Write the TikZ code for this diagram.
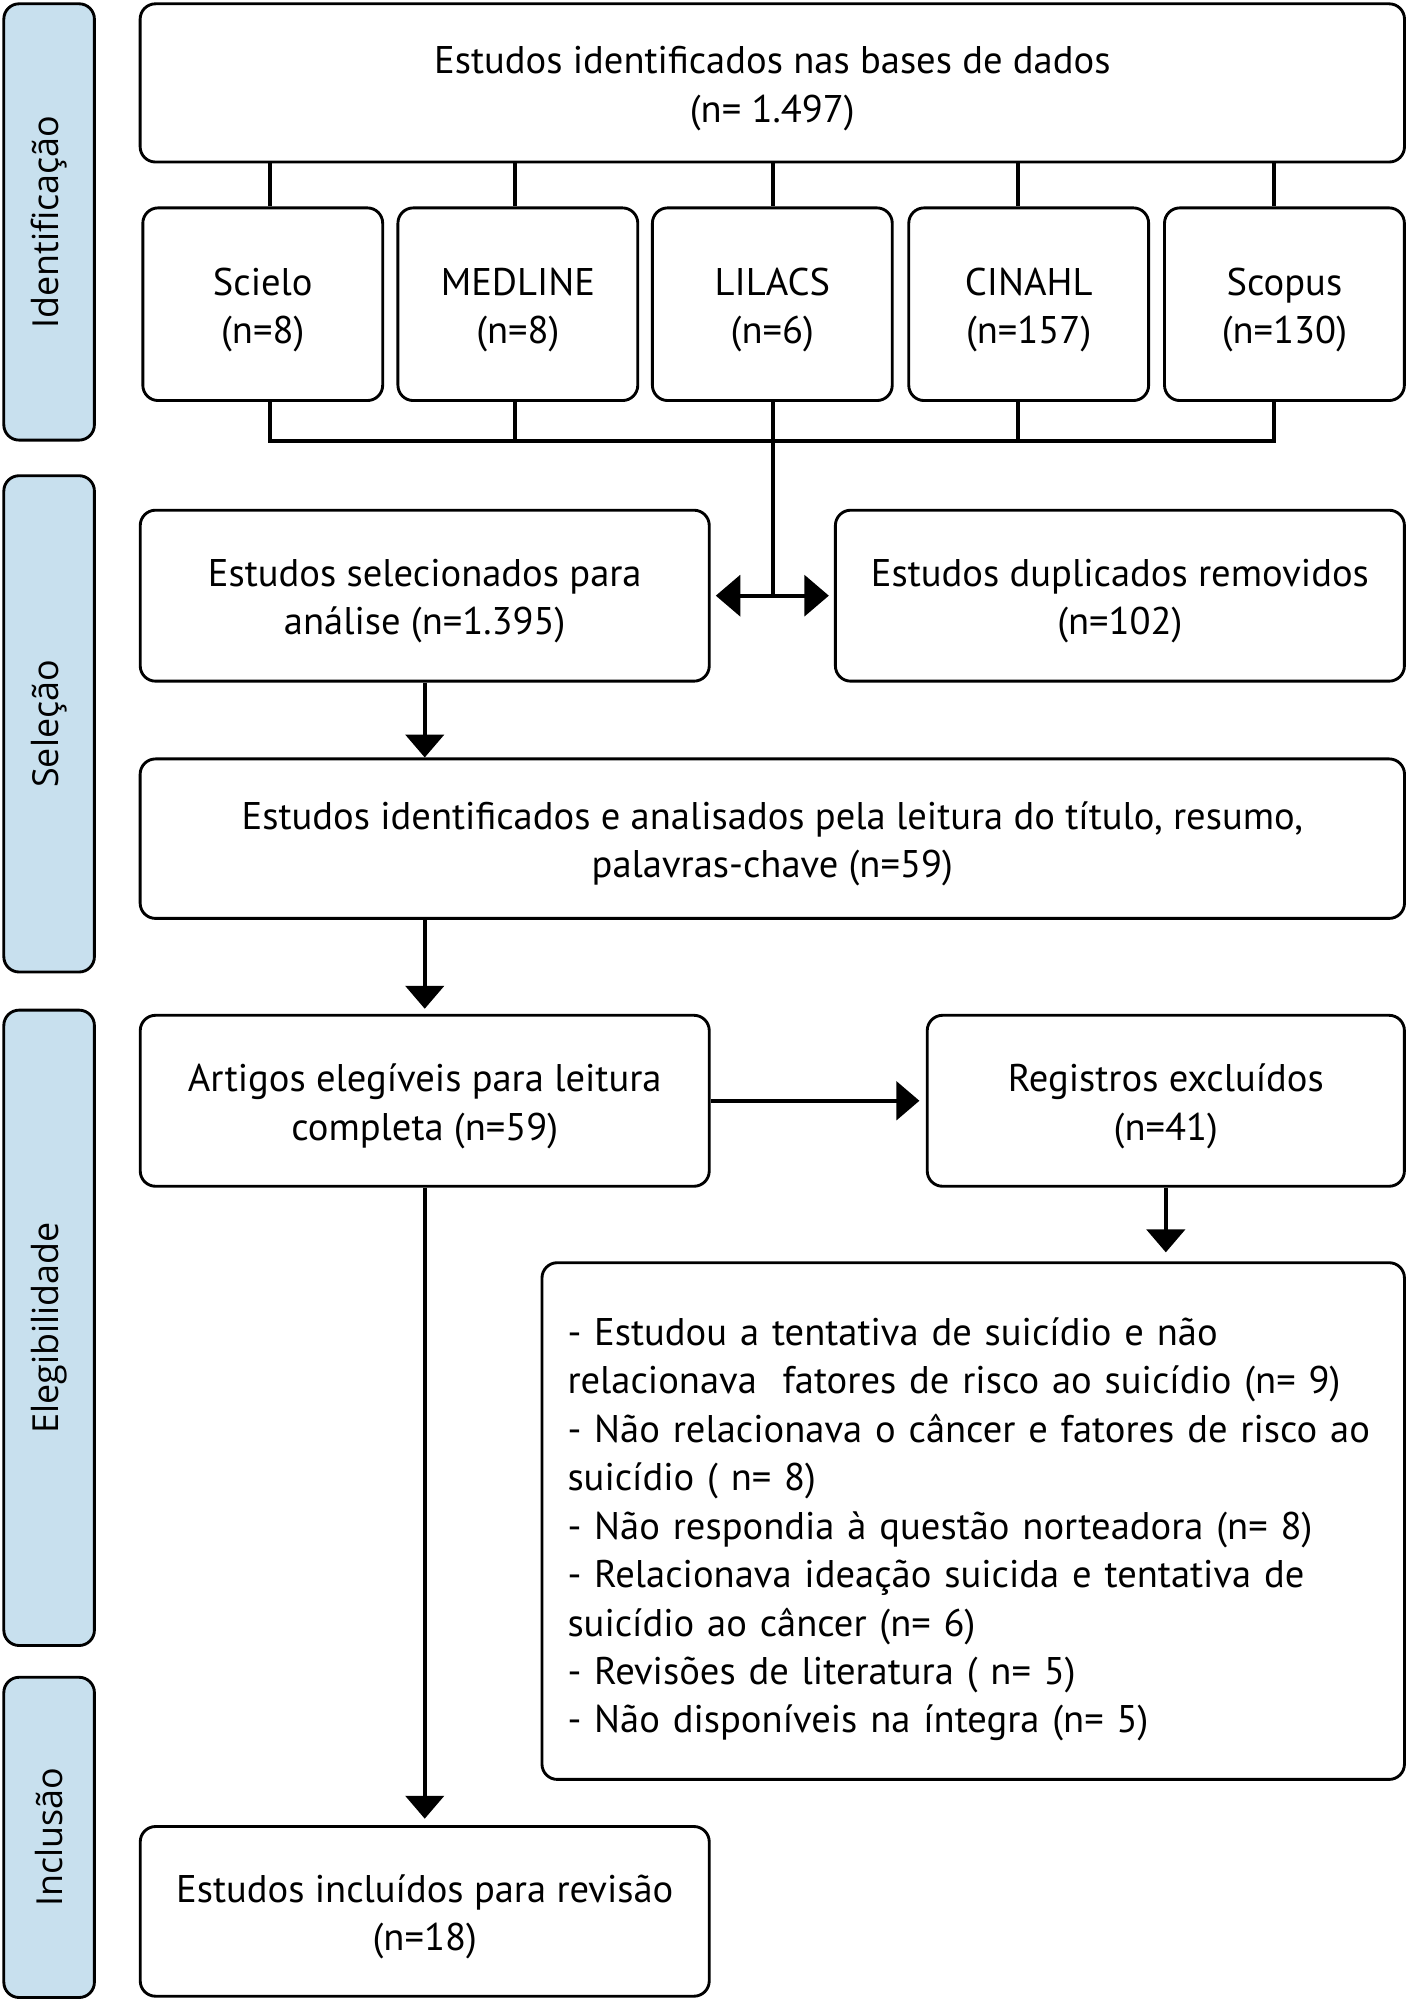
\documentclass[tikz,border=0pt]{standalone}
\usepackage{fontspec}
\setmainfont{PT Sans}
\newfontfamily\sidefont{Open Sans}
\usetikzlibrary{arrows.meta}
\definecolor{sideblue}{HTML}{C8E0EE}
\newcommand\tp{\rule{0pt}{21.5pt}}
\newcommand\tpl{\rule{0pt}{25pt}}
\begin{document}
\begin{tikzpicture}[x=0.025cm,y=-0.025cm,
  box/.style={draw=black, line width=1.6pt, rounded corners=0.3cm, fill=white, align=center,
    font=\fontsize{21.5}{27}\selectfont, inner sep=0pt},
  side/.style={draw=black, line width=1.6pt, rounded corners=0.3cm, fill=sideblue,
    minimum height=1.775cm, rotate=90, font=\sidefont\fontsize{20}{24}\selectfont, inner sep=0pt},
  conn/.style={line width=2.3pt},
  arr/.style={conn, -{Triangle[length=0.45cm,width=0.75cm]}},
  darr/.style={conn, {Triangle[length=0.48cm,width=0.8cm]}-{Triangle[length=0.48cm,width=0.8cm]}}
]
\useasboundingbox (0,0) rectangle (1103,1568);

% side bars
\node[side, minimum width=8.55cm]  (s1) at (38.5,174)    {Identificação};
\node[side, minimum width=9.725cm] (s2) at (38.5,567.5)  {Seleção};
\node[side, minimum width=12.45cm] (s3) at (38.5,1041)   {Elegibilidade};
\node[side, minimum width=6.275cm] (s4) at (38.5,1440.5) {Inclusão};

% boxes
\node[box, minimum width=24.775cm, minimum height=3.1cm] (top) at (605.5,65)
  {\tp Estudos identificados nas bases de dados\\(n= 1.497)};
\node[box, minimum width=4.7cm, minimum height=3.775cm] (db1) at (206,238.5)   {\tp Scielo\\(n=8)};
\node[box, minimum width=4.7cm, minimum height=3.775cm] (db2) at (406,238.5)   {\tp MEDLINE\\(n=8)};
\node[box, minimum width=4.7cm, minimum height=3.775cm] (db3) at (605.5,238.5) {\tp LILACS\\(n=6)};
\node[box, minimum width=4.7cm, minimum height=3.775cm] (db4) at (806.5,238.5) {\tp CINAHL\\(n=157)};
\node[box, minimum width=4.7cm, minimum height=3.775cm] (db5) at (1007,238.5)  {\tp Scopus\\(n=130)};

\node[box, minimum width=11.15cm, minimum height=3.35cm] (sel) at (333,467)
  {\tp Estudos selecionados para\\análise (n=1.395)};
\node[box, minimum width=11.15cm, minimum height=3.35cm] (dup) at (878,467)
  {\tp Estudos duplicados removidos\\(n=102)};
\node[box, minimum width=24.775cm, minimum height=3.125cm] (ana) at (605.5,657.5)
  {\tp Estudos identificados e analisados pela leitura do título, resumo,\\palavras-chave (n=59)};
\node[box, minimum width=11.15cm, minimum height=3.35cm] (eleg) at (333,863)
  {\tp Artigos elegíveis para leitura\\completa (n=59)};
\node[box, minimum width=9.35cm, minimum height=3.35cm] (reg) at (914,863)
  {\tp Registros excluídos\\(n=41)};
\node[box, minimum width=16.9cm, minimum height=10.125cm, align=left, text width=15.9cm,
  inner xsep=0.5cm] (list) at (763,1192.5)
  {\tpl - Estudou a tentativa de suicídio e não\\
   relacionava\ \ fatores de risco ao suicídio (n= 9)\\
   - Não relacionava o câncer e fatores de risco ao\\
   suicídio ( n= 8)\\
   - Não respondia à questão norteadora (n= 8)\\
   - Relacionava ideação suicida e tentativa de\\
   suicídio ao câncer (n= 6)\\
   - Revisões de literatura ( n= 5)\\
   - Não disponíveis na íntegra (n= 5)};
\node[box, minimum width=11.15cm, minimum height=3.325cm] (incl) at (333,1498.5)
  {\tp Estudos incluídos para revisão\\(n=18)};

% junction coordinates
\coordinate (j1) at (212,346);
\coordinate (j2) at (404,346);
\coordinate (j3) at (606,346);
\coordinate (j4) at (798,346);
\coordinate (j5) at (999,346);
\coordinate (hub) at (606,467);

% connectors top -> databases
\foreach \j/\d in {j1/db1,j2/db2,j3/db3,j4/db4,j5/db5}{
  \draw[conn] (top.south -| \j) -- (\d.north -| \j);
}
% databases -> bus
\draw[conn] (db1.south -| j1) -- (j1) -- (j5) -- (db5.south -| j5);
\draw[conn] (db2.south -| j2) -- (j2);
\draw[conn] (db3.south -| j3) -- (j3);
\draw[conn] (db4.south -| j4) -- (j4);
\draw[conn] (j3) -- (hub);
\draw[darr, shorten <=0.1cm, shorten >=0.1cm] (sel.east) -- (dup.west);

% flow arrows
\draw[arr] (sel.south) -- (ana.north -| sel.south);
\draw[arr, shorten >=0.1cm] (ana.south -| eleg.north) -- (eleg.north);
\draw[arr, shorten >=0.125cm] (eleg.east) -- (reg.west);
\draw[arr, shorten >=0.175cm] (reg.south) -- (list.north -| reg.south);
\draw[arr, shorten >=0.125cm] (eleg.south) -- (incl.north);
\end{tikzpicture}
\end{document}
